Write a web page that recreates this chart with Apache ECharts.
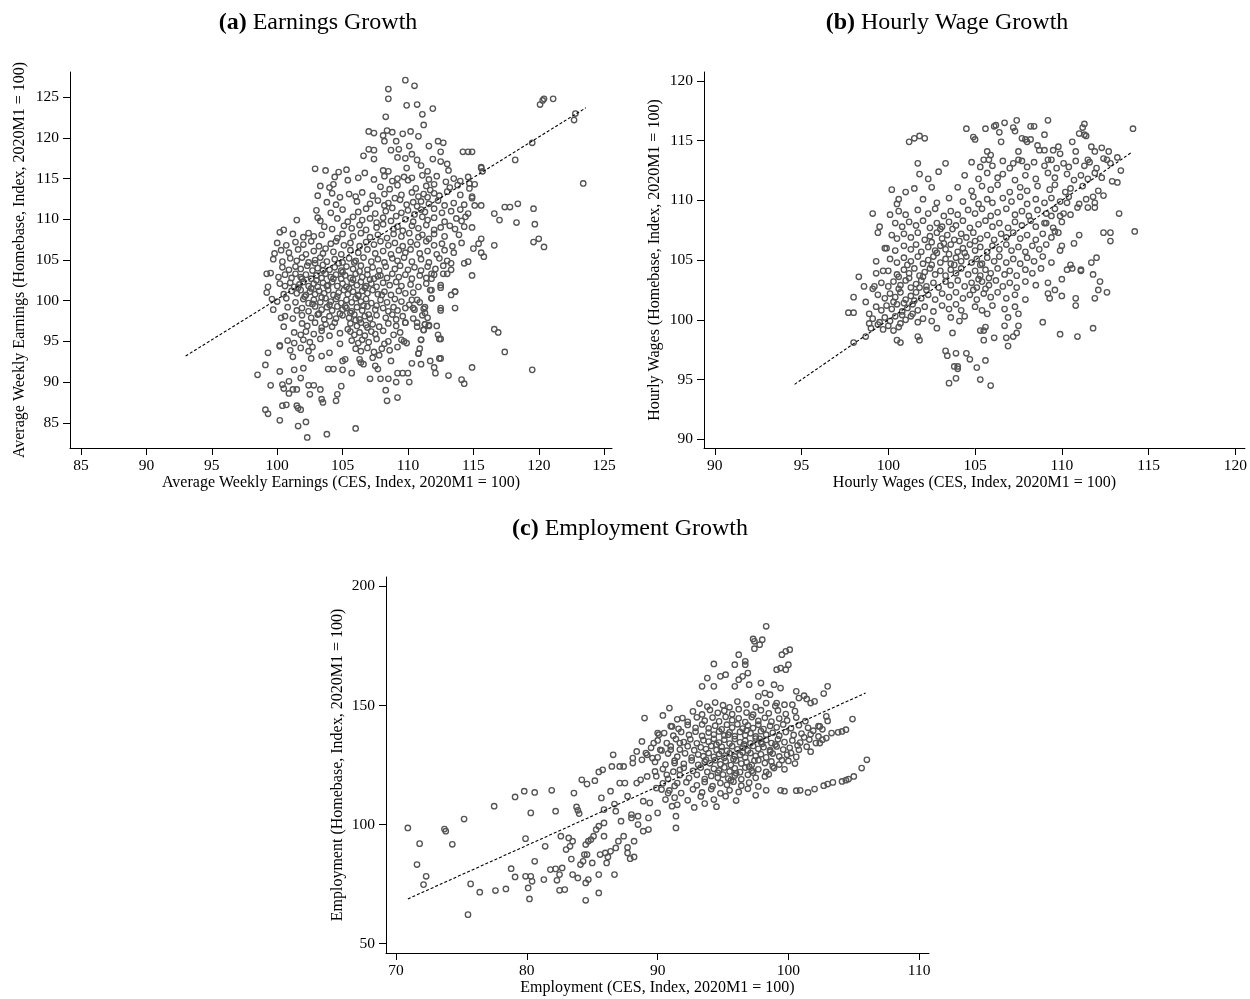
<!DOCTYPE html>
<html>
<head>
<meta charset="utf-8">
<script src="https://cdn.jsdelivr.net/npm/echarts@6/dist/echarts.min.js"></script>
<style>
html,body{margin:0;padding:0;background:#fff}
#chart{width:1250px;height:999px}
</style>
</head>
<body>
<div id="chart"></div>
<script>
// (a) Earnings: [CES index, Homebase index] per state-month
const earningsPoints = [
[109.8,127.1],[110.5,126.4],[108.5,126.0],[108.5,124.8],[109.9,124.0],[110.7,124.1],[111.9,123.6],[108.3,122.6],[111.1,122.9],[111.2,121.6],
[107.0,120.8],[107.4,120.6],[108.4,120.9],[108.8,120.7],[109.6,120.5],[110.2,120.8],[108.1,120.3],[110.8,120.2],[109.1,119.6],[112.3,119.6],
[112.7,119.4],[110.1,119.0],[108.2,119.6],[111.6,119.0],[107.0,118.6],[107.4,118.5],[108.7,118.5],[109.3,118.6],[112.5,118.3],[114.2,118.3],
[114.6,118.3],[114.9,118.3],[106.6,117.8],[107.4,117.4],[109.2,117.6],[109.8,117.5],[110.3,118.0],[110.7,117.3],[111.9,117.4],[112.5,117.1],
[113.0,116.8],[118.2,117.3],[119.5,119.4],[120.3,124.6],[120.4,124.8],[121.1,124.8],[120.1,124.1],[122.7,122.2],[122.8,123.0],[123.4,114.4],
[115.6,116.4],[115.7,115.9],[114.7,114.4],[115.1,114.3],[114.9,112.8],[115.1,111.7],[115.6,111.7],[116.6,110.7],[117.0,109.9],[117.4,111.5],
[117.8,111.5],[118.4,111.9],[118.3,109.6],[119.6,111.3],[119.7,109.4],[120.0,107.6],[119.6,107.2],[120.4,106.6],[116.6,106.8],[115.6,107.6],
[115.4,107.0],[115.0,106.4],[115.6,105.9],[115.8,105.4],[114.9,109.0],[114.9,103.1],[114.3,104.6],[116.6,96.5],[116.9,96.1],[117.4,93.7],
[119.5,91.5],[114.9,91.8],[114.1,90.3],[114.3,89.8],[113.1,90.8],
[98.5,90.9],[99.5,89.6],[99.1,86.6],[99.3,86.1],[100.2,85.3],[101.6,84.6],[102.2,85.1],[102.3,83.2],[103.8,83.6],[106.0,84.3],
[99.1,92.1],[99.3,93.6],[100.2,94.5],[100.2,91.3],[100.4,89.7],[100.5,89.2],[100.4,87.1],[100.7,87.2],[100.9,88.6],[101.2,89.1],
[101.5,87.1],[101.6,86.8],[101.8,86.6],[101.5,89.1],[100.9,90.1],[101.3,91.5],[101.8,90.5],[102.0,91.7],[102.4,89.6],[102.5,88.5],
[102.8,89.6],[103.3,89.1],[103.4,87.9],[103.5,87.5],[103.9,91.6],[104.3,91.6],[104.5,87.7],[104.6,88.5],[104.9,89.5],[105.0,92.6],
[105.0,91.5],[105.2,92.8],[105.7,91.1],[106.4,92.4],[106.6,92.2],[107.5,92.0],[107.7,91.6],[107.1,90.4],[107.9,90.4],[108.3,89.0],
[108.4,87.7],[108.5,90.4],[108.7,92.6],[109.2,91.1],[109.1,90.0],[109.2,88.1],[109.6,91.1],[110.0,91.1],[110.1,90.0],[110.3,92.3],
[111.0,92.2],[111.7,92.6],[112.0,91.8],[112.1,91.1],[112.4,92.9],[112.5,92.9],[110.9,94.1],[111.0,95.2],[111.2,96.4],[112.4,95.3],
[110.8,93.5],[109.7,95.0],[109.8,97.3],[110.7,97.3],[111.3,97.1],[111.6,97.0],[112.2,96.9],[113.6,99.1],[113.3,100.7],[113.6,101.1],
[112.5,101.6],[112.5,99.1],[111.8,100.3],[111.8,101.3],[113.0,103.3],[112.7,103.3],[111.8,103.3],[111.8,102.7],[111.3,98.5],[111.2,99.0],
[110.7,100.1],[110.1,99.5],[110.4,99.1],
[102.9,116.2],[103.7,116.0],[104.7,115.8],[105.3,116.1],[106.7,115.7],[108.1,116.0],[108.5,115.9],[109.9,116.3],[111.0,116.6],[111.5,115.9],[113.1,116.0],[115.6,116.3],
[104.4,115.2],[105.4,114.8],[106.2,115.1],[107.4,114.9],[108.2,115.3],[108.8,114.7],[109.2,115.0],[109.7,115.2],[110.0,114.8],[110.3,115.1],[111.1,115.4],[111.6,114.9],[112.2,115.3],[112.9,114.6],[113.5,115.0],[114.0,114.7],[114.6,115.2],
[103.3,114.1],[104.0,113.9],[104.3,114.3],[107.9,114.0],[108.6,113.7],[109.2,114.2],[110.6,113.8],[111.4,114.1],[111.7,113.6],[112.0,114.3],[113.2,113.9],[113.8,114.2],[114.7,113.8],
[103.1,112.9],[104.2,113.2],[104.8,112.7],[105.5,113.1],[106.0,112.8],[106.5,113.3],[107.3,112.9],[108.2,113.1],[109.0,112.6],[109.5,113.0],[110.3,113.3],[110.8,112.8],[111.2,113.1],[111.5,112.7],[112.0,113.2],[112.4,112.9],[113.0,113.4],[114.0,113.0],[114.9,112.6],
[103.8,112.1],[104.5,111.8],[106.1,112.2],[107.1,111.9],[107.7,112.3],[108.2,111.7],[108.5,112.0],[109.4,112.4],[109.9,111.8],[110.4,112.1],[110.7,111.6],[111.0,112.2],[111.6,111.9],[112.3,112.3],[112.8,111.7],[113.5,112.0],[114.3,111.8],
[103.0,111.1],[104.1,110.8],[105.0,111.2],[106.2,110.9],[106.8,111.3],[107.5,110.7],[108.3,111.0],[108.8,111.4],[109.5,110.8],[110.0,111.1],[110.5,110.6],[111.0,111.2],[111.3,110.9],[112.0,111.3],[112.6,110.8],[113.3,111.0],[114.0,111.2],[114.6,110.7],
[103.1,110.2],[103.3,109.8],[104.6,110.1],[105.4,109.7],[105.8,110.3],[106.5,109.9],[107.1,110.1],[107.6,109.6],[108.1,110.2],[108.7,109.8],[109.1,110.4],[109.8,110.0],[110.4,109.7],[111.1,110.3],[111.5,109.9],[112.0,110.2],[112.8,109.7],[113.7,110.1],[114.1,109.8],[114.4,110.3],
[100.5,108.7],[101.5,109.9],[103.6,109.1],[104.2,108.8],[105.1,109.2],[105.7,108.9],[106.3,109.3],[106.8,108.7],[107.6,109.0],[108.1,109.4],[108.9,108.8],[109.2,109.1],[109.6,108.6],[110.3,109.2],[110.8,108.9],[111.4,109.3],[112.0,108.7],[112.5,109.0],[113.2,109.2],[113.6,108.8],[114.3,109.1],
[100.2,108.4],[101.2,108.2],[102.0,107.8],[102.4,108.3],[102.8,107.9],[103.4,108.1],[104.6,107.7],[105.0,108.2],[105.8,107.9],[106.4,108.3],[107.1,107.8],[107.7,108.1],[108.4,107.7],[108.9,108.2],[109.5,107.9],[110.1,108.3],[110.8,107.8],[111.1,108.1],[111.6,107.6],[112.0,108.2],[112.8,107.9],[113.9,108.1],
[100.0,107.1],[100.7,106.8],[101.4,107.2],[102.0,106.9],[102.6,107.3],[103.2,106.7],[104.1,107.0],[104.5,107.3],[105.1,106.8],[105.6,107.1],[106.3,106.7],[106.8,107.2],[107.4,106.9],[107.9,107.3],[108.5,106.8],[109.0,107.1],[109.6,106.7],[110.2,107.2],[110.7,106.9],[111.4,107.3],[112.0,106.8],[112.6,107.0],[113.4,106.7],[114.1,107.1],
[99.8,105.8],[100.3,106.2],[100.9,105.9],[101.6,106.3],[102.2,105.7],[102.8,106.1],[103.5,105.8],[103.7,106.4],[104.3,106.0],[104.9,105.7],[105.6,106.2],[106.2,105.9],[106.9,106.3],[107.5,105.8],[108.1,106.1],[108.7,105.7],[109.3,106.2],[109.8,105.9],[110.2,106.3],[110.9,105.8],[111.5,106.1],[112.2,105.7],[112.8,106.2],[113.5,105.9],
[99.7,105.1],[100.4,104.8],[101.0,105.2],[101.5,104.9],[101.9,105.3],[102.4,104.7],[102.9,105.0],[103.3,105.3],[103.8,104.8],[104.4,105.1],[105.0,104.7],[105.5,105.2],[106.0,104.9],[106.6,105.3],[107.2,104.8],[107.7,105.1],[108.2,104.7],[108.8,105.2],[109.2,104.9],[109.7,105.3],[110.3,104.8],[111.0,105.1],[111.6,104.7],[112.4,105.2],[113.0,104.9],[113.3,104.6],[114.6,104.8],
[100.4,104.1],[100.9,103.8],[101.4,104.2],[101.8,103.9],[102.3,104.3],[102.7,103.7],[103.1,104.0],[103.5,104.4],[104.0,103.8],[104.4,104.1],[104.9,103.7],[105.3,104.2],[105.8,103.9],[106.4,104.3],[106.9,103.8],[107.3,104.1],[107.8,103.7],[108.3,104.2],[109.0,103.9],[109.4,104.3],[110.0,103.8],[110.5,104.1],[111.0,103.7],[111.5,104.2],[112.1,103.9],[112.7,104.3],[113.3,103.8],
[99.2,103.3],[99.5,103.4],[100.1,102.9],[100.6,103.2],[101.1,102.8],[101.4,103.3],[101.8,102.9],[102.2,103.2],[102.6,102.7],[103.0,103.1],[103.4,102.8],[103.7,103.3],[104.1,102.9],[104.5,103.2],[104.9,102.7],[105.2,103.1],[105.6,102.8],[106.0,103.3],[106.5,102.9],[106.9,103.2],[107.4,102.7],[107.9,103.1],[108.4,102.8],[108.8,103.3],[109.3,102.9],[109.8,103.2],[110.3,102.7],[110.9,103.1],[111.4,102.8],[112.0,103.2],
[99.3,101.7],[100.2,102.1],[100.6,101.8],[101.0,102.2],[101.3,101.7],[101.7,102.0],[102.0,102.3],[102.4,101.8],[102.8,102.1],[103.1,101.7],[103.5,102.2],[103.9,101.9],[104.2,102.3],[104.6,101.8],[105.0,102.1],[105.3,101.7],[105.7,102.2],[106.1,101.9],[106.4,102.3],[106.8,101.8],[107.2,102.1],[107.6,101.7],[108.1,102.2],[108.6,101.9],[109.1,102.3],[109.5,101.8],[110.2,102.0],[110.8,101.7],[111.4,102.1],[112.5,101.9],
[99.2,101.0],[100.5,100.8],[101.1,101.2],[101.5,100.9],[101.8,101.3],[102.2,100.7],[102.5,101.1],[102.9,100.8],[103.2,101.2],[103.6,100.9],[103.9,101.3],[104.3,100.7],[104.7,101.0],[105.1,101.3],[105.4,100.8],[105.8,101.1],[106.2,100.7],[106.5,101.2],[106.9,100.9],[107.3,101.3],[107.7,100.8],[108.2,101.1],[108.7,100.7],[109.3,101.2],[109.8,100.9],[110.4,101.0],[111.7,101.3],[113.6,101.1],
[99.6,100.2],[100.0,99.9],[100.7,100.3],[101.4,99.8],[102.0,100.2],[102.4,99.7],[102.8,100.1],[103.3,99.8],[103.7,100.3],[104.1,99.9],[104.5,100.2],[104.9,99.7],[105.3,100.1],[105.7,99.8],[106.0,100.3],[106.4,99.9],[106.8,100.2],[107.2,99.7],[107.9,100.1],[108.4,99.8],[109.0,100.2],[109.5,99.9],[110.3,100.1],[110.9,99.8],[111.8,100.3],
[99.7,98.9],[100.8,99.2],[101.5,98.8],[101.9,99.1],[102.4,98.7],[102.9,99.3],[103.4,98.9],[103.8,99.2],[104.2,98.8],[104.6,99.3],[105.0,98.9],[105.3,99.1],[105.7,98.7],[106.1,99.2],[106.5,98.8],[106.9,99.3],[107.5,98.9],[108.1,99.1],[108.5,98.7],[108.9,99.2],[109.2,98.8],[109.8,99.1],[110.5,98.9],[111.3,99.2],[112.5,98.8],
[100.3,97.9],[100.6,98.1],[101.2,97.8],[101.9,98.2],[102.6,97.9],[103.1,98.3],[103.6,97.7],[104.0,98.1],[104.5,97.8],[105.0,98.2],[105.5,97.9],[105.9,98.3],[106.3,97.7],[106.7,98.1],[107.1,97.8],[107.6,98.2],[108.3,97.9],[108.8,98.3],[109.1,97.7],[109.6,98.1],[110.4,97.8],[111.1,98.2],[111.5,97.9],
[100.5,96.8],[101.9,97.2],[102.3,96.9],[102.9,97.3],[103.4,96.7],[103.7,97.1],[104.2,96.8],[105.6,97.2],[106.1,96.9],[106.4,97.3],[106.9,96.7],[107.3,97.1],[107.8,96.8],[108.5,97.2],[109.1,96.9],[109.8,97.3],[110.7,96.8],[111.3,97.1],[111.6,96.9],
[101.3,96.1],[101.8,95.8],[102.2,96.2],[102.8,95.9],[103.4,96.3],[104.0,95.7],[104.8,96.0],[105.6,96.2],[105.9,95.8],[106.3,96.1],[106.7,95.7],[107.2,96.2],[107.5,95.9],[108.1,96.3],[108.9,95.8],[109.4,96.1],[111.2,96.4],[112.3,95.8],
[100.8,95.1],[101.3,94.8],[102.0,95.2],[102.5,94.9],[103.3,95.3],[104.8,94.7],[105.7,95.1],[106.2,94.8],[106.5,95.2],[107.0,94.9],[107.6,95.3],[108.2,94.7],[108.5,95.0],[109.5,95.2],[109.9,94.8],[111.0,95.2],[112.5,95.3],
[100.2,94.4],[101.0,93.9],[101.8,94.2],[102.4,93.8],[102.7,94.3],[104.0,93.6],[106.0,94.1],[106.4,93.8],[106.9,94.2],[107.4,93.7],[108.0,94.1],[108.6,93.9],[109.2,94.3],[110.8,93.5],
[101.2,93.1],[102.6,92.9],[103.4,93.2],[106.3,92.8],[107.3,93.0],[107.8,93.3],
[102.6,101.5],[103.0,102.5],[103.4,100.4],[103.8,101.8],[104.0,99.5],[104.3,102.7],[104.6,100.5],[104.8,98.4],[105.0,103.5],[105.2,99.3],
[105.5,101.5],[105.6,98.5],[105.8,102.6],[106.0,97.6],[106.2,100.6],[106.3,103.6],[106.6,99.4],[106.7,101.6],[107.0,98.3],[107.1,102.6],
[103.5,103.7],[102.9,104.6],[101.9,102.7],[102.1,100.5],[101.6,101.6],[104.4,97.3],[105.4,96.5],[106.8,97.0],[107.6,99.4],[108.0,100.7],
[107.7,103.0],[103.2,98.4],[102.7,99.6],[104.7,104.6],[105.9,104.7]
];
const earningsFit = [[93.0,93.2],[123.6,123.7]];
const earningsTicks = [85,90,95,100,105,110,115,120,125];

// (b) Hourly wages: [CES index, Homebase index]
const wagePoints = [
[101.2,114.9],[101.5,115.2],[101.8,115.4],[102.1,115.2],[101.7,113.1],[101.8,112.2],[102.3,111.8],[102.9,112.4],[103.3,113.1],[100.2,110.9],
[101.0,110.7],[101.5,111.0],[102.5,111.1],[99.1,108.9],[100.1,108.8],[100.5,109.7],[100.6,110.1],[99.3,104.9],[99.9,106.0],[99.4,107.3],
[99.5,107.8],[98.3,103.6],[98.0,101.9],[97.7,100.6],[98.0,100.6],[98.0,98.1],[98.7,98.6],[98.9,99.7],[98.9,100.5],[98.7,101.5],
[98.6,102.8],[99.2,102.8],[99.3,103.9],[99.7,104.1],[99.1,102.6],
[100.5,98.3],[100.7,98.1],[101.7,98.6],[101.8,98.3],[102.8,99.3],[103.3,97.4],[103.4,97.0],[103.7,98.9],[103.5,94.7],[103.9,95.1],
[103.8,96.1],[104.0,96.1],[104.0,95.9],[103.9,97.2],[104.5,97.2],[104.7,96.7],[105.1,96.0],[105.3,99.1],[105.5,99.1],[105.3,95.0],
[105.6,96.6],[105.6,99.4],[105.5,98.3],[105.9,94.5],[106.1,98.5],[105.7,100.5],[106.7,99.5],[106.8,98.5],[106.9,97.8],[106.9,100.2],
[107.2,98.6],[107.4,98.9],[107.5,99.5],[107.5,100.5],[108.9,99.8],[109.9,98.8],[110.9,98.6],[111.8,99.3],
[114.1,116.0],[114.2,107.4],[113.4,112.5],[113.2,111.5],[112.9,111.6],[113.3,108.9],[112.4,107.3],[112.8,107.3],[112.8,106.6],[112.6,102.3],
[112.1,102.5],[112.2,103.2],[111.9,101.8],[112.0,105.2],[111.7,104.8],[111.8,103.8],[110.8,101.8],[110.8,101.2],[111.0,107.1],[110.7,106.4],
[110.0,102.0],[109.3,101.8],[109.6,102.5],[110.3,104.2],[110.5,104.6],[110.6,104.3],[111.1,104.2],[111.1,104.1],[110.0,103.4],[110.0,106.2],
[112.4,110.4],[111.9,109.4],[111.8,110.3],[111.5,109.4],[110.9,109.4],[110.3,109.8],[110.1,108.9],[109.9,108.7],[109.6,107.4],[109.1,108.1],
[109.4,108.7],
[104.5,116.0],[104.9,115.3],[105.0,115.1],[105.6,116.0],[105.7,114.1],[105.9,113.8],[105.8,113.4],[106.1,116.2],[106.2,116.3],[106.4,115.7],
[106.7,116.5],[106.5,114.9],[107.2,116.1],[107.3,115.8],[107.4,116.7],[107.5,114.1],[107.7,113.3],[107.7,115.2],[107.9,115.1],[108.0,114.9],
[108.2,116.2],[108.4,116.2],[108.2,115.1],[108.6,114.6],[108.7,114.2],[109.0,114.2],[109.2,116.7],[109.0,115.5],[109.4,113.4],[109.5,114.2],
[109.8,114.5],[109.9,113.9],[110.6,114.9],[110.8,114.1],[111.3,116.4],[111.2,116.1],[111.0,115.6],[111.3,115.5],[111.4,115.4],[111.7,114.5],
[111.9,114.1],[112.3,114.4],[112.4,113.5],[112.6,113.4],[113.2,113.6],[112.7,114.1],[111.5,113.4],
[104.8,113.2],[105.3,112.8],[105.5,113.4],[106.0,112.9],[106.6,113.3],[107.0,112.7],[107.2,113.1],[107.5,113.4],[108.0,112.8],[108.4,113.2],[109.0,112.9],[109.2,113.4],[109.7,112.7],[110.1,113.1],[110.4,112.8],[110.8,113.3],[111.3,112.9],[111.6,113.2],[112.0,112.7],[112.8,113.1],
[104.4,112.1],[105.2,111.8],[105.7,112.3],[106.3,111.9],[106.6,112.2],[107.3,111.7],[107.9,112.1],[108.5,111.8],[109.2,112.3],[109.6,111.9],[110.3,112.2],[110.7,111.7],[111.1,112.1],[111.5,111.8],[111.9,112.3],[112.3,111.9],
[104.0,111.1],[104.8,110.8],[105.4,111.2],[105.9,110.9],[106.3,111.3],[107.0,110.7],[107.6,111.1],[108.0,110.8],[108.6,111.2],[109.3,110.9],[109.6,111.3],[110.2,110.7],[110.5,111.0],[111.2,111.2],[112.1,110.8],
[102.0,110.1],[102.8,109.8],[103.5,110.2],[104.3,109.9],[104.9,110.3],[105.2,109.7],[105.7,110.1],[106.0,109.8],[106.6,110.2],[107.1,109.9],[107.6,110.3],[108.0,109.7],[108.5,110.1],[109.0,109.8],[109.4,110.2],[109.9,109.9],[110.4,110.3],[111.0,109.7],[111.4,110.1],[111.9,109.8],
[100.6,109.1],[101.0,108.8],[101.7,109.2],[102.3,108.9],[102.7,109.3],[103.2,108.7],[103.6,109.1],[104.0,108.8],[104.6,109.2],[105.0,108.9],[105.4,109.3],[105.9,108.7],[106.3,109.0],[106.8,109.3],[107.3,108.8],[107.7,109.1],[108.1,108.7],[108.6,109.2],[109.1,108.9],[109.6,109.3],[110.5,108.8],
[100.4,108.1],[100.8,107.8],[101.2,108.2],[101.6,107.9],[102.0,108.3],[102.4,107.7],[102.8,108.1],[103.1,107.8],[103.5,108.2],[103.9,107.9],[104.3,108.3],[104.7,107.7],[105.2,108.0],[105.6,108.3],[106.0,107.8],[106.4,108.1],[106.9,107.7],[107.3,108.2],[107.7,107.9],[108.2,108.3],[108.5,107.8],[109.0,108.1],[109.5,107.7],[110.0,108.2],
[100.2,107.1],[100.5,106.8],[100.9,107.2],[101.3,106.9],[101.7,107.3],[102.1,106.7],[102.4,107.0],[102.8,107.3],[103.1,106.8],[103.4,107.1],[103.8,106.7],[104.2,107.2],[104.5,106.9],[104.9,107.3],[105.3,106.8],[105.7,107.1],[106.1,106.7],[106.5,107.2],[106.8,106.9],[107.2,107.3],[107.6,106.8],[108.0,107.1],[108.5,106.7],[108.9,107.2],[109.4,106.9],[109.8,107.3],
[99.8,106.0],[100.4,105.8],[100.9,106.2],[101.3,105.9],[101.6,106.3],[101.9,105.7],[102.3,106.1],[102.7,105.8],[103.0,106.2],[103.3,105.9],[103.6,106.3],[104.0,105.7],[104.3,106.0],[104.7,106.3],[105.0,105.8],[105.3,106.1],[105.7,105.7],[106.0,106.2],[106.4,105.9],[106.8,106.3],[107.1,105.8],[107.5,106.1],[107.9,105.7],[108.3,106.2],[108.7,105.9],[109.1,106.3],[109.9,105.8],
[100.1,105.1],[100.5,104.8],[100.9,105.2],[101.3,104.9],[101.7,105.3],[102.0,104.7],[102.3,105.0],[102.6,105.3],[103.0,104.8],[103.3,105.1],[103.6,104.7],[103.9,105.2],[104.2,104.9],[104.5,105.3],[104.8,104.8],[105.1,105.1],[105.4,104.7],[105.7,105.2],[106.1,104.9],[106.4,105.3],[106.8,104.8],[107.2,105.1],[107.6,104.7],[108.0,105.2],[108.4,104.9],[108.9,105.3],[109.4,104.8],
[100.0,104.1],[100.5,103.8],[100.9,104.2],[101.2,103.9],[101.5,104.3],[101.8,103.7],[102.1,104.0],[102.4,104.3],[102.7,103.8],[103.0,104.1],[103.3,103.7],[103.6,104.2],[103.9,103.9],[104.2,104.3],[104.6,103.8],[105.0,104.1],[105.3,103.7],[105.6,104.2],[105.9,103.9],[106.3,104.3],[106.7,103.8],[107.0,104.1],[107.4,103.7],[107.9,104.2],[108.3,103.9],[108.8,104.3],
[99.6,103.1],[100.0,102.8],[100.3,103.2],[100.7,102.9],[101.0,103.3],[101.3,102.7],[101.6,103.0],[101.9,103.3],[102.2,102.8],[102.6,103.1],[102.9,102.7],[103.3,103.2],[103.6,102.9],[104.0,103.3],[104.4,102.8],[104.8,103.1],[105.1,102.7],[105.4,103.2],[105.8,102.9],[106.2,103.3],[106.6,102.8],[107.0,103.1],[107.4,102.7],[107.9,103.2],[108.5,102.9],[109.2,103.1],
[99.4,102.1],[99.8,101.8],[100.1,102.2],[100.4,101.9],[100.7,102.3],[101.0,101.7],[101.3,102.0],[101.6,102.3],[101.9,101.8],[102.3,102.1],[102.7,101.7],[103.1,102.2],[103.5,101.9],[103.9,102.3],[104.3,101.8],[104.7,102.1],[105.1,101.7],[105.5,102.2],[105.9,101.9],[106.3,102.3],[106.8,101.8],[107.3,102.1],[107.9,101.7],[109.2,102.2],
[99.3,101.1],[99.6,100.8],[99.9,101.2],[100.2,100.9],[100.5,101.3],[100.8,100.7],[101.1,101.0],[101.4,101.3],[101.7,100.8],[102.1,101.1],[102.6,100.7],[103.1,101.2],[103.5,100.9],[103.9,101.3],[104.2,100.8],[105.0,101.1],[105.4,100.8],[106.0,101.2],[106.7,100.9],[107.3,101.1],
[99.1,100.1],[99.5,99.8],[99.8,100.2],[100.1,99.9],[100.4,100.3],[100.7,99.7],[101.0,100.0],[101.3,100.3],[101.7,99.8],[102.0,100.1],[102.5,99.9],[103.6,100.2],[104.1,99.9],[104.4,100.3],
[99.0,99.3],[99.4,99.6],[99.7,99.2],[100.0,99.5],[100.3,99.1],[100.6,99.4],
[100.3,101.5],[100.6,102.6],[100.9,101.4],[101.2,103.5],[101.5,101.6],[101.8,102.7],[100.8,100.4],[101.4,100.5],[102.0,103.6],[102.2,102.5],
[101.1,104.6],[100.6,103.6],[102.5,104.6],[102.8,105.6],[103.2,106.4],[103.5,105.5],[103.8,104.6],[104.1,106.6],[104.4,105.6],[105.0,106.6],
[105.2,103.4],[105.6,102.6],[105.8,103.5],[104.9,102.5],[105.3,104.6],[103.0,107.6],[103.7,107.6],[102.5,106.5]
];
const wageFit = [[94.6,94.6],[114.05,114.05]];
const wageTicks = [90,95,100,105,110,115,120];

// (c) Employment: [CES index, Homebase index]
const employmentPoints = [
[70.9,98.6],[71.8,92.0],[71.6,83.2],[72.1,74.8],[72.3,78.3],[73.7,98.1],[73.8,97.2],[74.3,91.7],[75.2,102.3],[75.7,75.1],
[76.4,71.6],[75.5,62.2],[77.5,107.7],[77.6,72.3],[78.4,73.0],[78.8,81.5],[79.1,111.6],[79.1,78.0],[79.8,114.0],[79.9,94.1],
[79.9,78.3],[80.1,73.4],[80.2,68.8],[80.3,78.3],[80.3,104.9],[80.4,76.2],[80.6,113.5],[80.6,84.6],[81.3,76.9],[81.4,90.9],
[81.8,81.1],[81.9,114.4],[82.2,105.6],[82.2,81.4],[82.3,76.6],[82.5,72.4],[82.5,79.0],[82.6,95.1],[82.7,81.8],[82.9,72.7],
[83.0,89.5],[83.2,94.4],[83.3,90.9],[83.4,85.5],[83.5,93.0],[83.6,113.2],[83.8,107.4],[83.9,106.0],[84.0,104.6],[83.5,79.0],
[83.9,77.6],[84.2,118.8],[84.6,117.0],[84.4,87.4],[84.6,87.4],[84.5,68.2],[84.5,75.5],[84.7,76.9],[85.0,83.9],[85.2,118.4],
[85.5,122.1],[85.5,71.3],[85.5,79.0],[85.6,87.4],[84.1,83.2],[84.3,84.6],[84.5,91.6],[84.7,93.0],[84.9,93.7],[85.1,95.1],
[85.3,97.9],[85.5,99.3],[85.7,111.2],[85.8,123.0],[85.9,106.3],[85.9,100.7],[85.9,95.1],[86.0,88.1],[86.1,83.9],[86.2,86.4],
[86.4,88.8],[86.4,114.0],[86.5,124.4],[86.6,129.3],[86.7,108.6],[86.8,105.6],[86.7,79.0],[86.8,90.2],[87.0,93.0],[87.1,117.4],
[87.1,124.4],[87.2,101.4],[87.4,124.4],[87.4,95.1],[87.5,117.4],[87.7,111.9],[87.7,88.1],[87.7,90.4],[87.9,85.7],[88.0,104.2],
[88.0,102.8],[88.1,125.8],[88.1,127.9],[88.2,93.0],[88.2,86.4],[88.4,130.7],[88.4,117.4],[88.5,103.5],[88.5,100.0],[88.7,118.8],
[88.8,127.2],[88.8,134.9],[88.9,109.8],[88.9,97.2],[89.0,144.7],[89.1,130.0],[89.2,120.2],[89.3,102.8],[89.3,97.9],[89.4,109.1],
[89.6,127.9],[89.7,134.2],[89.8,122.3],[89.9,115.3],[90.0,138.4],[90.0,104.9],[90.1,137.7],[90.2,131.4],[90.3,114.7],[90.4,145.8],
[90.6,110.5],[90.7,120.9],[90.8,113.2],[90.9,148.9],[91.0,131.4],[91.1,107.7],[91.1,141.2],[91.3,125.8],[91.4,98.6],[91.4,103.5],
[91.5,117.4],[91.7,123.0],[91.7,134.2],[91.9,144.7],
[99.4,114.4],[99.7,114.0],[100.6,114.2],[100.9,114.4],[101.5,113.5],[102.0,114.9],[102.7,116.3],[103.0,117.0],[103.4,117.7],[104.1,118.1],
[104.4,118.6],[104.6,119.1],[105.0,120.2],[105.6,123.7],[106.0,127.2],[98.3,114.4],[97.5,112.3],
[104.9,144.3],[104.4,139.8],[104.1,139.1],[103.8,138.7],[103.3,138.4],[103.0,158.0],[102.7,155.0],[102.9,145.4],[102.4,141.2],[102.3,137.0],
[102.1,134.2],[102.0,151.7],[101.7,151.0],[101.4,152.7],[101.2,154.1],[100.8,153.1],[100.6,155.9],[99.8,165.0],[99.4,165.7],[100.1,173.4],
[99.8,172.7],[99.5,171.3],[99.1,165.0],[100.0,167.1],[102.9,136.3],[102.6,135.6],[102.4,134.2],
[98.3,183.2],[98.0,177.6],[97.3,177.9],[97.4,176.9],[97.4,173.8],[97.8,175.5],[96.2,171.3],[96.7,168.5],[96.7,167.1],[95.9,167.1],
[94.3,167.4],[96.9,163.6],[96.5,162.2],[96.2,160.8],[95.2,162.9],[94.8,162.2],[93.8,161.5],[94.3,158.0],[93.4,158.0],[95.9,158.0],
[97.0,158.7],[97.9,159.4],[98.9,158.7],[99.4,157.3],[98.2,155.2],[98.6,154.5],[99.1,151.0],[99.7,150.3],[100.3,150.3],[97.7,153.8],
[93.2,150.8],[93.8,149.5],[94.4,151.2],[95.0,150.1],[95.5,149.2],[96.1,151.6],[96.8,150.4],[97.5,149.3],[98.3,151.0],[99.0,149.8],
[92.7,147.5],[93.4,146.2],[94.0,148.1],[94.6,146.9],[95.1,147.8],[95.7,146.3],[96.2,148.4],[96.8,147.0],[97.3,146.1],[97.9,148.0],[98.5,146.7],[99.2,147.9],[99.8,146.4],[100.5,147.6],
[91.5,144.2],[92.3,143.1],[93.0,145.0],[93.6,143.6],[94.2,144.9],[94.7,143.3],[95.2,145.2],[95.7,143.8],[96.2,144.6],[96.7,143.0],[97.2,145.1],[97.7,143.5],[98.2,144.8],[98.7,143.2],[99.3,144.5],[99.9,143.7],[100.6,144.9],[101.3,143.4],
[91.0,141.3],[91.6,140.2],[92.3,141.8],[92.9,140.6],[93.4,142.0],[93.9,140.4],[94.4,141.5],[94.9,140.0],[95.3,141.9],[95.7,140.7],[96.1,142.1],[96.5,140.3],[96.9,141.6],[97.3,140.5],[97.7,141.9],[98.1,140.1],[98.6,141.4],[99.1,140.8],[99.6,142.0],[100.2,140.4],[100.8,141.7],[101.5,140.6],[102.3,141.3],
[90.5,138.4],[91.2,137.3],[91.8,138.9],[92.4,137.6],[92.9,139.0],[93.4,137.2],[93.9,138.6],[94.3,137.8],[94.7,139.1],[95.1,137.4],[95.5,138.7],[95.9,137.1],[96.3,138.9],[96.7,137.5],[97.1,138.3],[97.5,137.0],[97.9,139.2],[98.3,137.7],[98.8,138.5],[99.3,137.3],[99.8,138.8],[100.4,137.6],[101.0,138.2],[101.7,137.9],
[90.0,135.3],[90.7,134.2],[91.4,135.9],[92.0,134.6],[92.5,135.8],[93.0,134.1],[93.5,135.4],[93.9,134.8],[94.3,136.0],[94.7,134.4],[95.1,135.6],[95.5,134.0],[95.9,135.9],[96.3,134.5],[96.7,135.2],[97.1,134.1],[97.5,136.1],[97.9,134.7],[98.3,135.5],[98.7,134.2],[99.2,135.8],[99.7,134.6],[100.3,135.3],[100.9,134.4],[101.6,135.7],
[89.5,132.2],[90.3,131.1],[91.0,132.8],[91.7,131.5],[92.3,132.9],[92.8,131.2],[93.3,132.4],[93.7,131.7],[94.1,133.0],[94.5,131.3],[94.9,132.6],[95.3,131.0],[95.7,132.9],[96.1,131.6],[96.5,132.3],[96.9,131.1],[97.3,133.0],[97.7,131.8],[98.1,132.5],[98.6,131.2],[99.1,132.8],[99.6,131.5],[100.1,132.2],[100.8,131.4],[101.4,132.7],
[89.2,129.3],[90.0,128.2],[90.8,129.8],[91.5,128.5],[92.1,129.9],[92.6,128.1],[93.1,129.4],[93.5,128.7],[93.9,130.0],[94.3,128.4],[94.7,129.6],[95.1,128.0],[95.5,129.9],[95.9,128.6],[96.3,129.2],[96.7,128.1],[97.1,130.0],[97.5,128.8],[97.9,129.5],[98.3,128.2],[98.8,129.8],[99.3,128.6],[99.9,129.3],[100.6,128.4],
[89.8,126.3],[90.6,125.2],[91.3,126.8],[92.0,125.5],[92.6,126.9],[93.1,125.1],[93.6,126.4],[94.0,125.7],[94.4,127.0],[94.8,125.3],[95.2,126.6],[95.6,125.0],[96.0,126.9],[96.4,125.6],[96.8,126.2],[97.2,125.1],[97.7,127.0],[98.2,125.8],[98.7,126.5],[99.3,125.2],[100.0,126.7],
[90.4,123.3],[91.2,122.2],[92.0,123.8],[92.7,122.5],[93.3,123.9],[93.8,122.1],[94.3,123.4],[94.7,122.7],[95.1,124.0],[95.5,122.3],[95.9,123.6],[96.3,122.0],[96.7,123.9],[97.2,122.6],[97.7,123.2],[98.3,122.1],[98.9,123.7],
[89.9,120.3],[90.8,119.2],[91.7,120.8],[92.4,119.5],[93.0,120.9],[93.6,119.1],[94.1,120.4],[94.6,119.7],[95.0,121.0],[95.4,119.3],[95.9,120.6],[96.4,119.0],[96.9,120.9],[97.5,119.6],[98.2,120.2],
[90.4,117.3],[91.3,116.2],[92.2,117.8],[93.0,116.5],[93.6,117.9],[94.2,116.1],[94.8,117.4],[95.3,116.7],[95.8,118.0],[96.4,116.3],[97.0,117.6],[97.7,116.0],
[90.9,114.3],[91.8,113.2],[92.7,114.8],[93.4,113.5],[94.1,114.9],[94.8,113.1],[95.5,114.4],[96.2,113.7],[96.9,115.0],
[91.3,111.3],[92.3,110.2],[93.3,111.8],[94.3,110.5],[95.2,111.9],[96.0,110.1],
[91.5,108.3],[92.8,107.2],[93.6,108.8],[94.5,107.5],
[94.9,130.8],[95.8,127.5],[96.6,133.7],[97.4,126.8],[98.0,133.9],[96.0,121.5],[97.0,124.3],[95.4,137.7],[96.8,139.5],[97.8,136.0],
[98.6,130.6],[94.6,121.7],[95.6,118.5],[96.5,130.3],[97.3,121.8],[93.7,127.2],[94.5,133.5],[98.8,124.4],[99.5,127.0],[99.0,133.6],
[100.2,130.0],[100.7,133.2],[101.2,136.6],[101.9,139.4],[102.6,140.0],[103.0,143.5],[101.7,130.6],[100.5,125.6],[99.7,123.2],[98.5,121.1]
];
const employmentFit = [[70.9,68.8],[105.9,155.2]];
const employmentTicksX = [70,80,90,100,110];
const employmentTicksY = [50,100,150,200];

const FONT = '"Liberation Serif","Times New Roman",serif';
const DOT = '#555555';

function axis(gridIndex, min, max, ticks, name, nameGap, labelMargin) {
  return {
    type: 'value', gridIndex, min, max, name,
    nameLocation: 'middle', nameGap,
    nameTextStyle: { fontFamily: FONT, fontSize: 16, color: '#000' },
    axisLine: { show: true, onZero: false, lineStyle: { color: '#000', width: 1 } },
    axisTick: { show: true, length: 7, customValues: ticks, lineStyle: { color: '#000', width: 1 } },
    axisLabel: { customValues: ticks, fontFamily: FONT, fontSize: 15.5, color: '#000', margin: labelMargin },
    splitLine: { show: false }
  };
}

function scatter(i, data) {
  return {
    type: 'scatter', xAxisIndex: i, yAxisIndex: i, data,
    symbol: 'circle', symbolSize: 5.4,
    itemStyle: { color: 'rgba(0,0,0,0)', borderColor: DOT, borderWidth: 1.35, opacity: 1 },
    silent: true
  };
}

function fitLine(i, data) {
  return {
    type: 'line', xAxisIndex: i, yAxisIndex: i, data,
    symbol: 'none', showSymbol: false,
    lineStyle: { color: '#000', width: 1.1, type: [3, 2] },
    silent: true, z: 3
  };
}

function panelTitle(tag, text, left, top) {
  return {
    text: '{b|' + tag + '} ' + text, left, top, textAlign: 'center',
    textStyle: {
      fontFamily: FONT, fontSize: 24, fontWeight: 'normal', color: '#000',
      rich: { b: { fontFamily: FONT, fontSize: 24, fontWeight: 'bold', color: '#000' } }
    }
  };
}

const chart = echarts.init(document.getElementById('chart'), null, { renderer: 'canvas' });
chart.setOption({
  animation: false,
  backgroundColor: '#fff',
  title: [
    panelTitle('(a)', 'Earnings Growth', 313, 6),
    panelTitle('(b)', 'Hourly Wage Growth', 942, 6),
    panelTitle('(c)', 'Employment Growth', 625, 512)
  ],
  grid: [
    { left: 70, top: 72, width: 542, height: 376 },
    { left: 704, top: 72, width: 542, height: 376 },
    { left: 386, top: 577, width: 543, height: 376 }
  ],
  xAxis: [
    axis(0, 84.16, 125.6, earningsTicks, 'Average Weekly Earnings (CES, Index, 2020M1 = 100)', 27, 10),
    axis(1, 89.38, 120.55, wageTicks, 'Hourly Wages (CES, Index, 2020M1 = 100)', 27, 10),
    axis(2, 69.23, 110.75, employmentTicksX, 'Employment (CES, Index, 2020M1 = 100)', 26, 10)
  ],
  yAxis: [
    axis(0, 81.9, 128.1, earningsTicks, 'Average Weekly Earnings (Homebase, Index, 2020M1 = 100)', 42, 11),
    axis(1, 89.27, 120.75, wageTicks, 'Hourly Wages (Homebase, Index, 2020M1 = 100)', 41, 11),
    axis(2, 46.1, 203.9, employmentTicksY, 'Employment (Homebase, Index, 2020M1 = 100)', 40, 11)
  ],
  series: [
    scatter(0, earningsPoints), fitLine(0, earningsFit),
    scatter(1, wagePoints), fitLine(1, wageFit),
    scatter(2, employmentPoints), fitLine(2, employmentFit)
  ]
});
</script>
</body>
</html>
